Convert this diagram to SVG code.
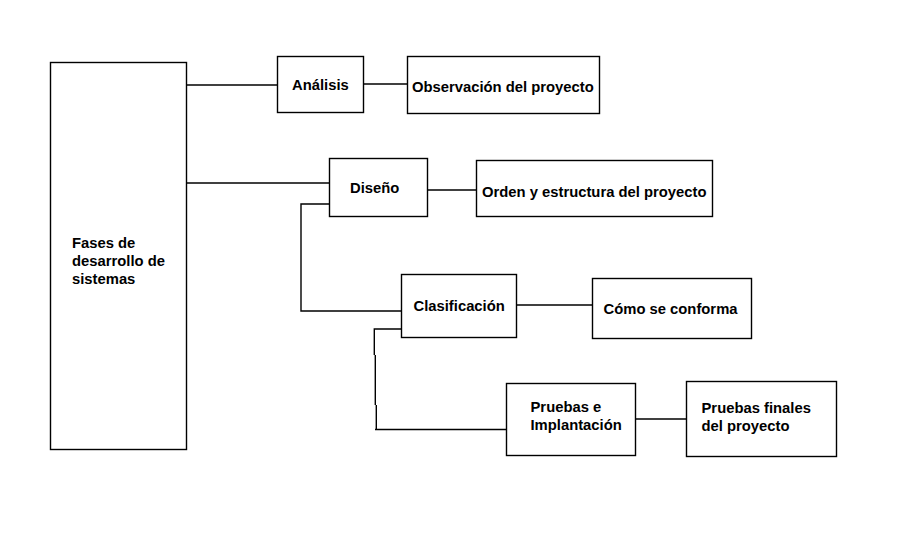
<svg xmlns="http://www.w3.org/2000/svg" width="906" height="544" viewBox="0 0 906 544">
<style>
.box{fill:#fff;stroke:#000;stroke-width:1.4}
.ln{fill:none;stroke:#000;stroke-width:1.4}
text{font-family:"Liberation Sans",Arial,sans-serif;font-weight:bold;font-size:14.8px;fill:#000}
</style>
<rect width="906" height="544" fill="#fff"/>
<g id="connectors">
<line class="ln" x1="186" y1="85" x2="277" y2="85"/>
<line class="ln" x1="363" y1="84" x2="407" y2="84"/>
<line class="ln" x1="186" y1="183" x2="330" y2="183"/>
<line class="ln" x1="427" y1="190" x2="476" y2="190"/>
<path class="ln" d="M330 204 H301 V311 H401"/>
<line class="ln" x1="516" y1="305" x2="592" y2="305"/>
<path class="ln" d="M401 329 H374.3 V355 M375.3 355 V405 M376.3 405 V429.5 M375 429.5 H506"/>
<line class="ln" x1="635" y1="419" x2="686" y2="419"/>
</g>
<g id="fases">
<rect class="box" x="50.5" y="62.5" width="136" height="387"/>
<text x="72" y="248">Fases de</text>
<text x="72" y="266">desarrollo de</text>
<text x="72" y="284">sistemas</text>
</g>
<g id="analisis">
<rect class="box" x="277.5" y="56.5" width="86" height="56"/>
<text x="292" y="90">Análisis</text>
</g>
<g id="observacion">
<rect class="box" x="407.5" y="56.5" width="192" height="57"/>
<text x="412" y="92">Observación del proyecto</text>
</g>
<g id="diseno">
<rect class="box" x="329.5" y="158.5" width="98" height="58"/>
<text x="350" y="193">Diseño</text>
</g>
<g id="orden">
<rect class="box" x="476.5" y="160.5" width="236" height="56"/>
<text x="482" y="197">Orden y estructura del proyecto</text>
</g>
<g id="clasificacion">
<rect class="box" x="401.5" y="274.5" width="115" height="63"/>
<text x="413.5" y="311">Clasificación</text>
</g>
<g id="como">
<rect class="box" x="592.5" y="278.5" width="159" height="60"/>
<text x="603.5" y="314">Cómo se conforma</text>
</g>
<g id="pruebas">
<rect class="box" x="506.5" y="383.5" width="129" height="72"/>
<text x="530.5" y="412">Pruebas e</text>
<text x="530.5" y="430">Implantación</text>
</g>
<g id="pruebas-finales">
<rect class="box" x="686.5" y="381.5" width="150" height="75"/>
<text x="701.5" y="413">Pruebas finales</text>
<text x="701.5" y="431">del proyecto</text>
</g>
</svg>
